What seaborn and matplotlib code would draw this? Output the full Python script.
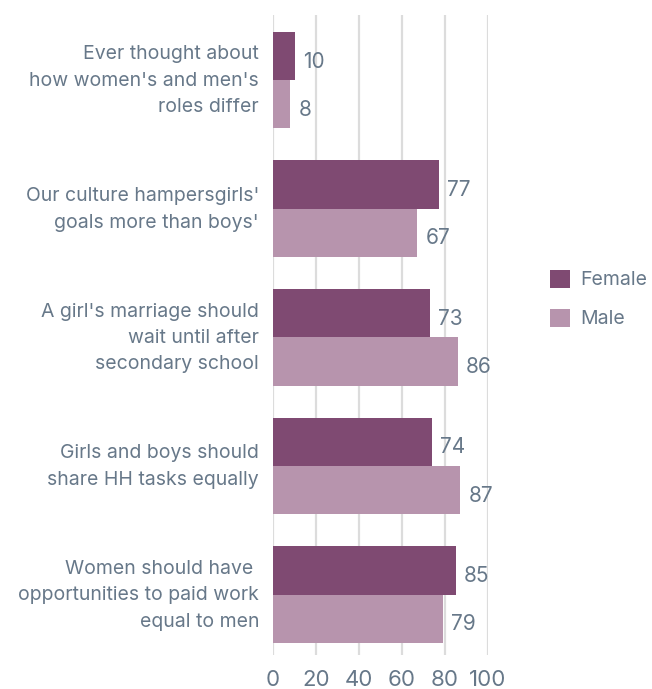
import matplotlib
matplotlib.use("Agg")
import matplotlib.pyplot as plt
import matplotlib.transforms as mtransforms
import pandas as pd
import seaborn as sns

questions = [
    "Ever thought about\nhow women's and men's\nroles differ",
    "Our culture hampersgirls'\ngoals more than boys'",
    "A girl's marriage should\nwait until after\nsecondary school",
    "Girls and boys should\nshare HH tasks equally",
    "Women should have \nopportunities to paid work\nequal to men",
]
female = [10, 77, 73, 74, 85]
male = [8, 67, 86, 87, 79]
groups = ["Female", "Male"]
colors = ["#7f4a72", "#b794ad"]
x_ticks = [0, 20, 40, 60, 80, 100]

TEXT = "#677889"
GRID = "#dcdcdc"

df = pd.DataFrame({
    "question": questions * 2,
    "value": female + male,
    "sex": [groups[0]] * len(questions) + [groups[1]] * len(questions),
})

sns.set_style("white")
plt.rcParams["font.family"] = ["Inter", "DejaVu Sans"]

fig = plt.figure(figsize=(6.52, 6.89), dpi=100)
ax = fig.add_axes([273 / 652, 1 - 655 / 689, (488 - 273) / 652, (655 - 15) / 689])

sns.barplot(data=df, y="question", x="value", hue="sex", orient="h",
            palette=colors, width=0.75, saturation=1, linewidth=0, ax=ax, zorder=3)

for cont in ax.containers:
    lbls = ax.bar_label(cont, padding=6, fontsize=15, color=TEXT)
    for t in lbls:
        t.xyann = (6, -4)

ax.set_xlim(0, 100)
ax.set_ylim(4.47, -0.506)
ax.set_xticks(x_ticks)
ax.xaxis.grid(True, color=GRID, linewidth=1.6, zorder=0)
ax.yaxis.grid(False)
for s in ax.spines.values():
    s.set_visible(False)
ax.tick_params(axis="x", length=0, pad=11, labelsize=16, labelcolor=TEXT)
ax.tick_params(axis="y", length=0, pad=10, labelsize=14, labelcolor=TEXT)
# lift the multi-line labels a little so they sit centred on the group
lift = mtransforms.ScaledTranslation(0, 4 / 72, fig.dpi_scale_trans)
for lbl in ax.get_yticklabels():
    lbl.set_horizontalalignment("right")
    lbl.set_linespacing(1.6)
    lbl.set_transform(lbl.get_transform() + lift)
ax.set_xlabel("")
ax.set_ylabel("")

ax.legend(title=None, frameon=False, loc="center left",
          bbox_to_anchor=(550 / 652, 1 - 299 / 689), bbox_transform=fig.transFigure,
          borderaxespad=0, borderpad=0,
          fontsize=14, labelcolor=TEXT, handlelength=1.05, handleheight=1.05,
          handletextpad=0.5, labelspacing=1.0)

fig.savefig("out.png", dpi=100)
